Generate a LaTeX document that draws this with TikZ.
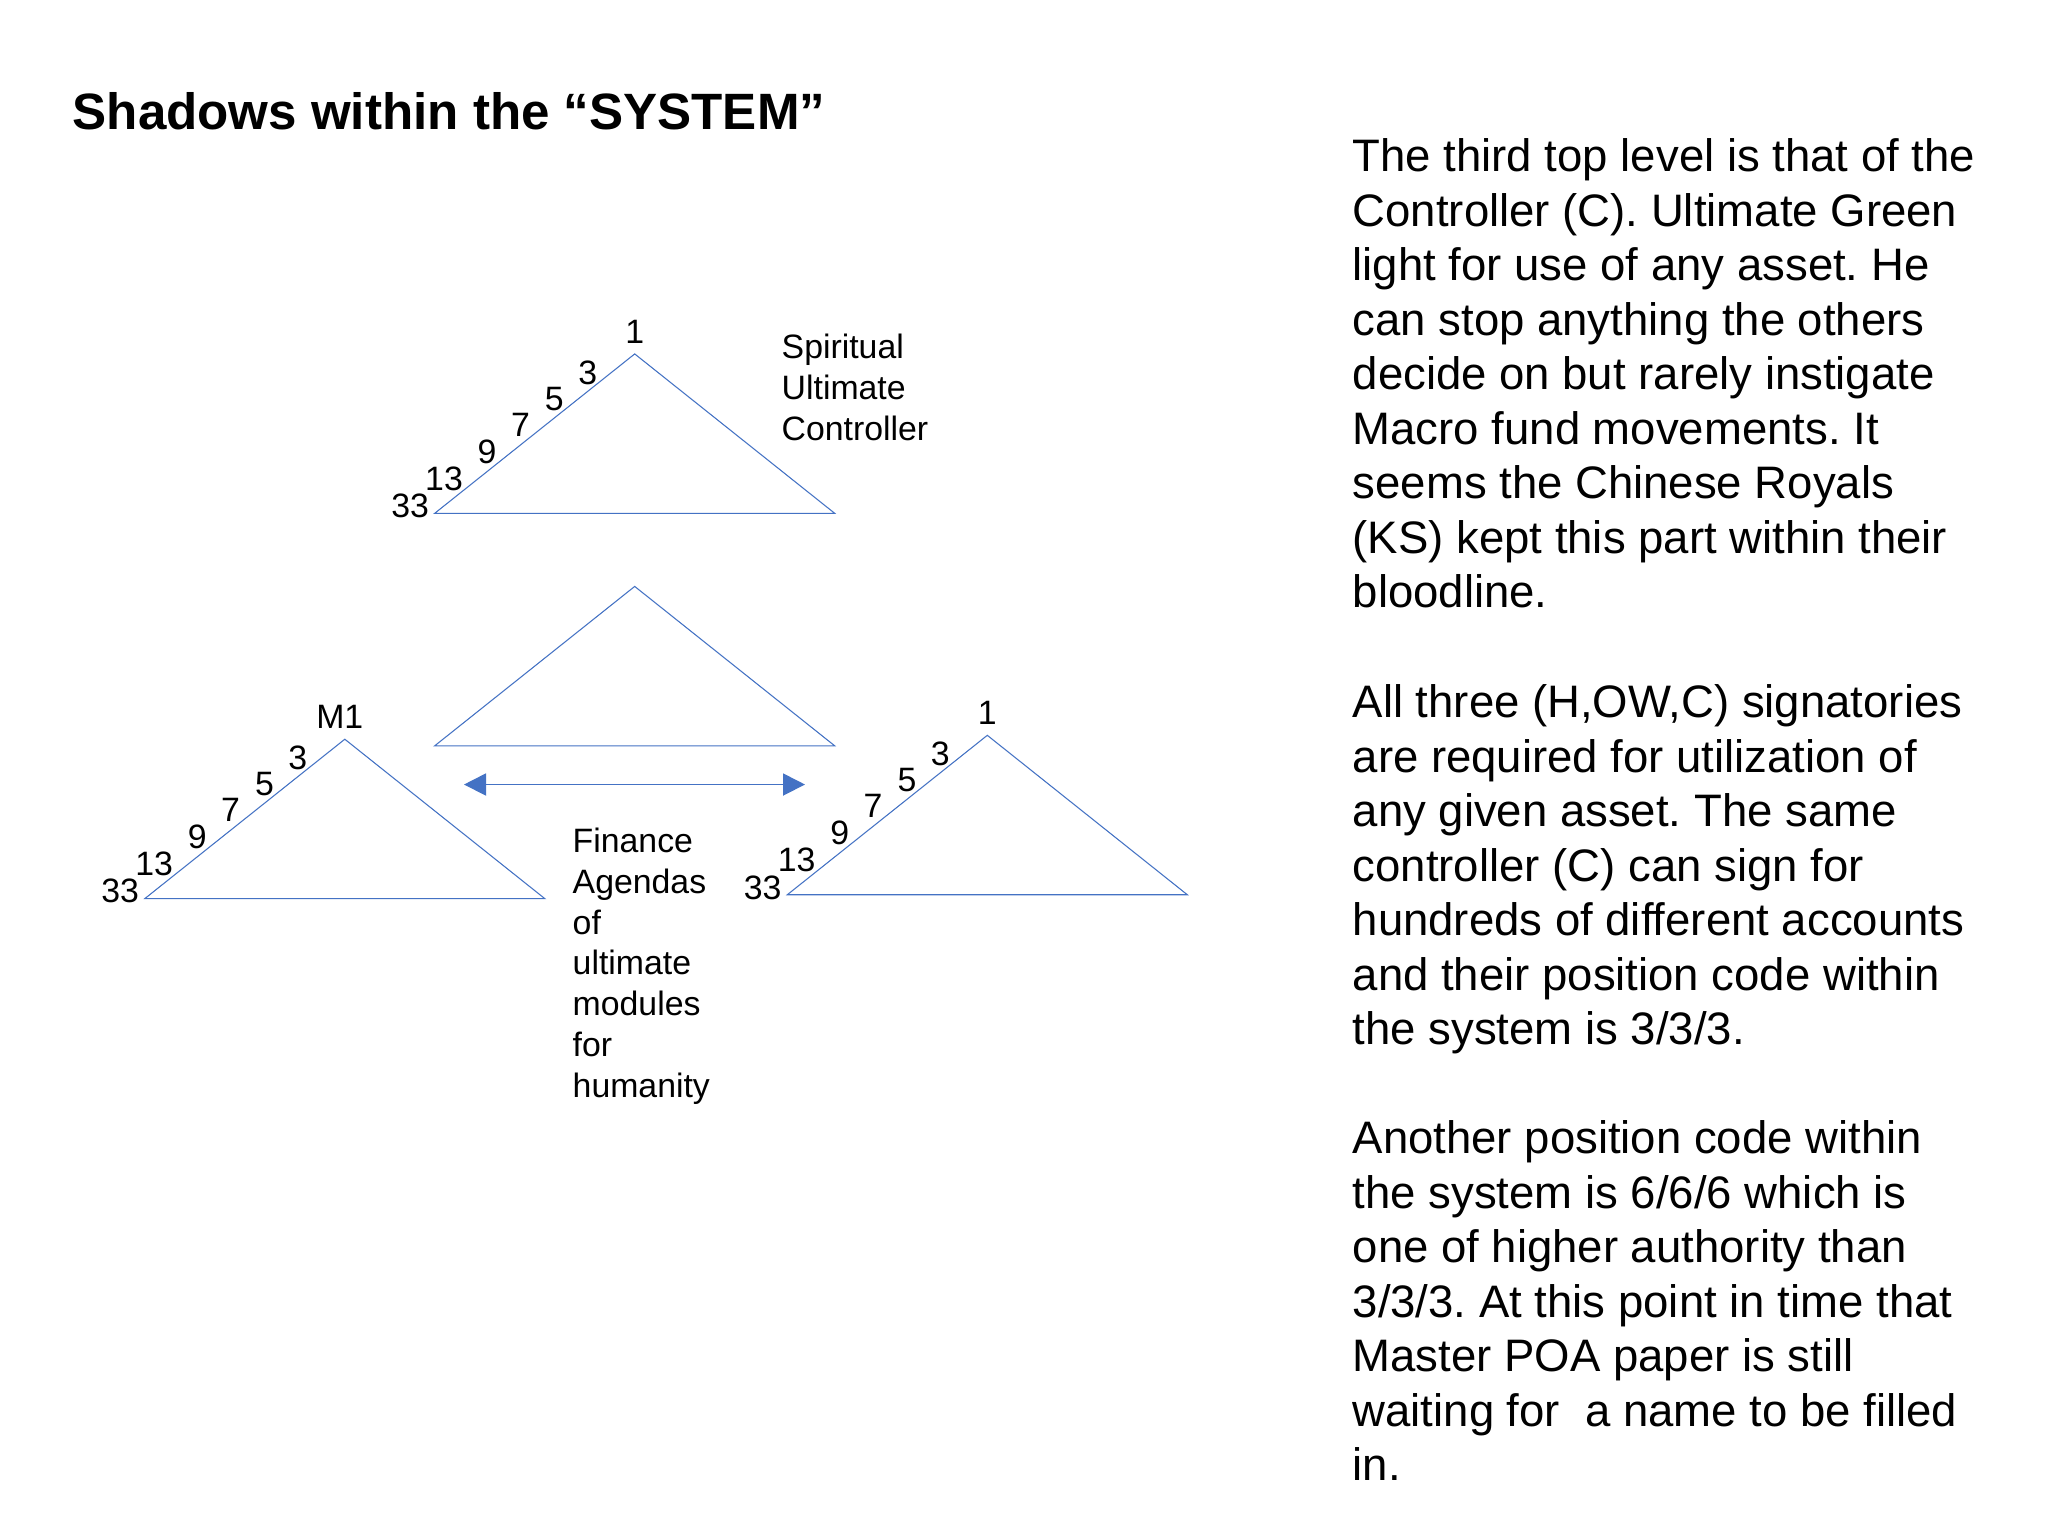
\documentclass[tikz,border=0pt]{standalone}
\usepackage{fontspec}
\setmainfont{Liberation Sans}
\usetikzlibrary{arrows.meta}

\definecolor{offblue}{HTML}{4472C4}

\begin{document}
\frenchspacing
\begin{tikzpicture}[x=0.1mm, y=-0.1mm,
  tri/.style={draw=offblue, line width=0.3pt},
  twoway/.style={draw=offblue, line width=0.5pt, {Triangle[length=2.2mm,width=2.2mm]}-{Triangle[length=2.2mm,width=2.2mm]}, fill=offblue},
  small/.style={inner sep=0pt, font=\fontsize{9.62}{11.64}\selectfont},
  notes/.style={inner sep=0pt, anchor=north west, align=left, font=\fontsize{12.95}{15.51}\selectfont}]

\fill[white] (0,0) rectangle (2048,1536);

\node[inner sep=0pt, anchor=north west, font=\fontsize{14.54}{17.4}\selectfont\bfseries] (title) at (72,92) {Shadows within the “SYSTEM”};

% numbered triangles
\foreach \ax/\ay/\tdx/\top/\nm in {634.7/353.9/0/1/spirit, 344.8/739.2/-5/M1/mone, 987.3/735.3/0/1/right} {
  \draw[tri] (\ax,\ay) -- ++(200,159.4) -- ++(-400,0) -- cycle;
  \node[small] (\nm-top) at (\ax+\tdx,\ay-22) {\top};
  \foreach \n/\dx/\dy in {3/-47/19, 5/-80.4/45, 7/-114.3/70.5, 9/-147.6/98, 13/-190.7/124.8, 33/-224.6/152.1}
    \node[small] (\nm-\n) at (\ax+\dx,\ay+\dy) {\n};
};

% plain triangle in the middle
\draw[tri] (634.7,586.4) -- ++(200,159.4) -- ++(-400,0) -- cycle;

\coordinate (arrL) at (464,784.5);
\coordinate (arrR) at (805,784.5);
\draw[twoway] (arrL) -- (arrR);

\node[small, anchor=north west, align=left] (spirit-txt) at (781,333) {Spiritual\\Ultimate\\Controller};
\node[small, anchor=north west, align=left] (finance) at (572,827) {Finance\\Agendas\\of\\ultimate\\modules\\for\\humanity};

\node[notes] (para1) at (1352,138) {The third top level is that of the\\Controller (C). Ultimate Green\\light for use of any asset. He\\can stop anything the others\\decide on but rarely instigate\\Macro fund movements. It\\seems the Chinese Royals\\(KS) kept this part within their\\bloodline.};
\node[notes] (para2) at (1352,684) {All three (H,OW,C) signatories\\are required for utilization of\\any given asset. The same\\controller (C) can sign for\\hundreds of different accounts\\and their position code within\\the system is 3/3/3.};
\node[notes] (para3) at (1352,1120) {Another position code within\\the system is 6/6/6 which is\\one of higher authority than\\3/3/3. At this point in time that\\Master POA paper is still\\waiting for\ \ a name to be filled\\in.};

\end{tikzpicture}
\end{document}
